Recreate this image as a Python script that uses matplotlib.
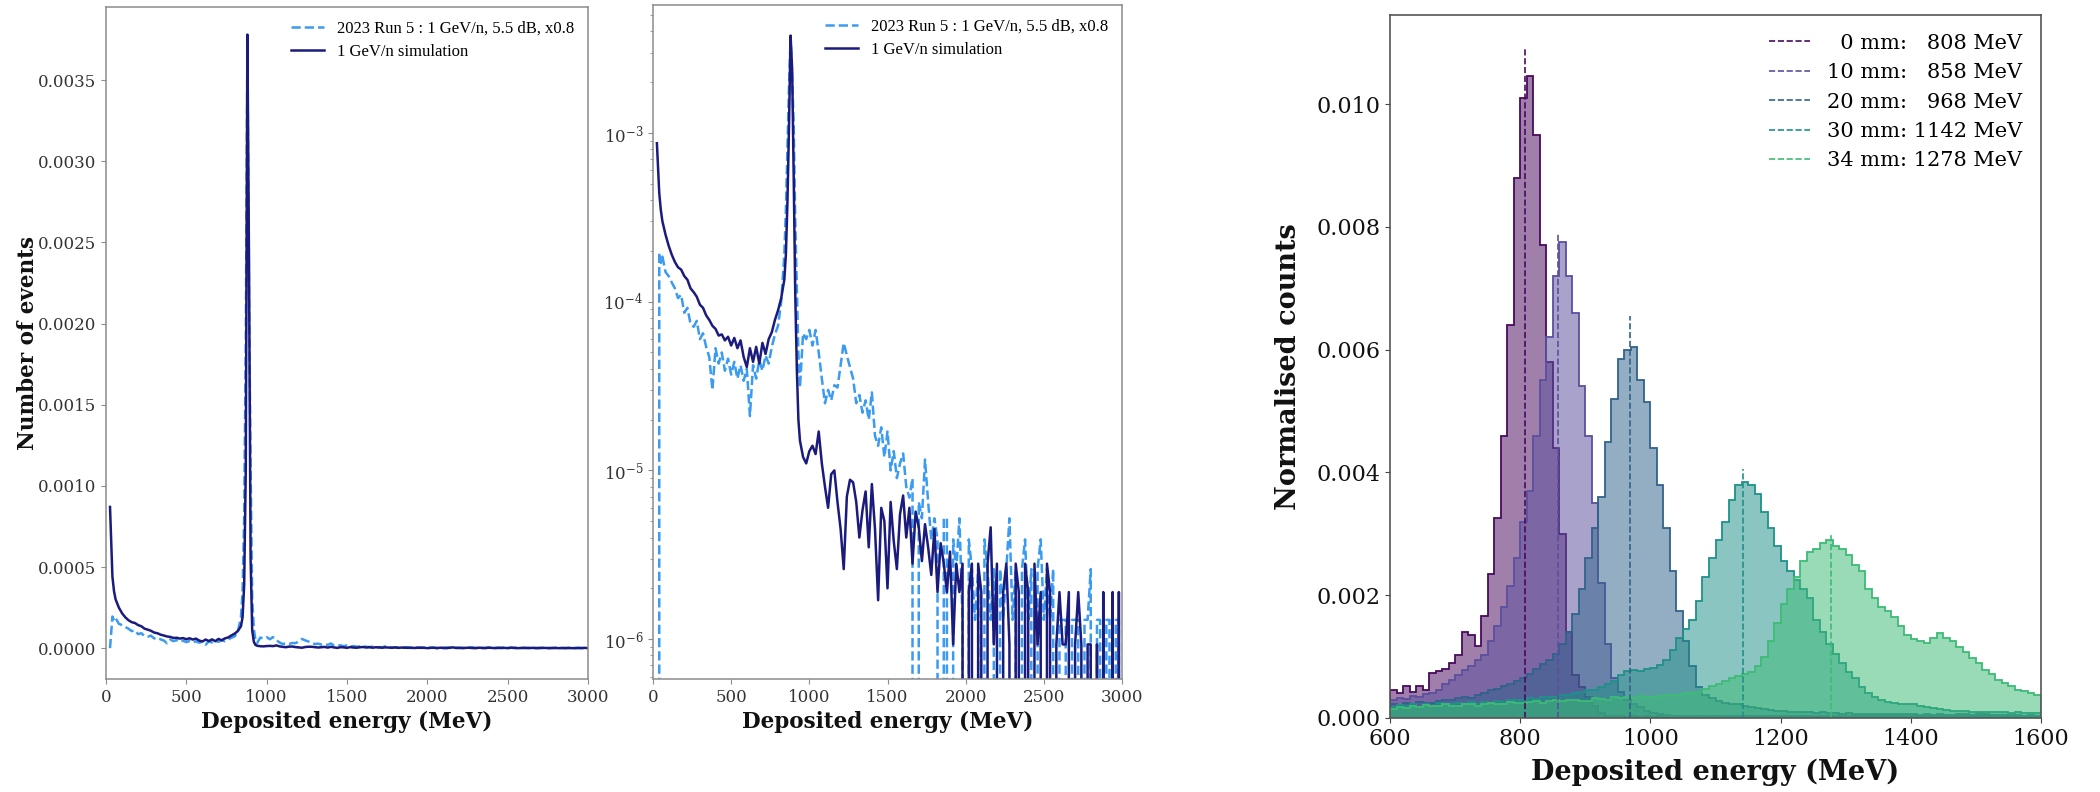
import numpy as np
import matplotlib
matplotlib.use("Agg")
import matplotlib.pyplot as plt
from matplotlib.lines import Line2D
from matplotlib.ticker import FormatStrFormatter

plt.rcParams['font.family'] = 'DejaVu Serif'
plt.rcParams['mathtext.fontset'] = 'dejavuserif'

# ---------------- Panels 1 & 2: spectra (same data, linear and log) ----------------
E_main = [25, 40, 50, 60,
          80, 100, 120, 140, 160, 180, 200, 220, 240, 260,
          280, 300, 320, 340, 360, 380, 400, 420, 440, 460,
          480, 500, 520, 540, 560, 580, 600, 620, 640, 660,
          680, 700, 720, 740, 760, 780, 800, 820, 840,
          850, 860, 870, 880, 890, 900, 910, 920, 930, 940]

sim_main = [8.7e-4, 4.4e-4, 3.5e-4, 3.0e-4,
            2.5e-4, 2.15e-4, 1.9e-4, 1.72e-4, 1.6e-4, 1.55e-4, 1.42e-4, 1.35e-4, 1.2e-4, 1.14e-4,
            1.07e-4, 9.6e-5, 9.2e-5, 8.3e-5, 7.8e-5, 7.2e-5, 6.9e-5, 6.3e-5, 6.4e-5, 5.9e-5,
            6.2e-5, 5.5e-5, 6.1e-5, 5.3e-5, 5.9e-5, 4.7e-5, 4.1e-5, 5.3e-5, 4.4e-5, 5.4e-5,
            4.3e-5, 5.7e-5, 4.9e-5, 6.0e-5, 6.6e-5, 7.8e-5, 8.9e-5, 1.05e-4, 1.35e-4,
            1.9e-4, 3.9e-4, 1.1e-3, 3.78e-3, 2.4e-3, 5.5e-4, 1.1e-4, 4.0e-5, 2.0e-5, 1.5e-5]

data_main = [0.0, 1.95e-4, 1.7e-4, 1.85e-4,
             1.5e-4, 1.42e-4, 1.3e-4, 1.2e-4, 1.05e-4, 1.1e-4, 8.6e-5, 9.2e-5, 7.4e-5, 7.1e-5,
             7.7e-5, 6.0e-5, 6.5e-5, 5.4e-5, 4.7e-5, 3.0e-5, 5.3e-5, 4.3e-5, 5.0e-5, 3.9e-5,
             4.6e-5, 3.7e-5, 4.4e-5, 3.5e-5, 4.2e-5, 3.4e-5, 4.0e-5, 2.1e-5, 4.2e-5, 3.5e-5,
             4.5e-5, 3.9e-5, 4.8e-5, 4.3e-5, 5.4e-5, 6.4e-5, 7.2e-5, 1.0e-4, 1.9e-4,
             3.5e-4, 8.0e-4, 1.9e-3, 3.7e-3, 2.2e-3, 1.1e-3, 3.0e-4, 1.2e-4, 5.0e-5, 3.1e-5]

E_tail = list(range(960, 3001, 20))

sim_tail = [1.2e-5, 1.1e-5, 1.3e-5, 1.4e-5, 1.25e-5, 1.7e-5, 1.1e-5, 8.0e-6, 6.0e-6, 9.5e-6,
            1.0e-5, 6.5e-6, 4.5e-6, 2.6e-6, 7.0e-6, 8.8e-6, 8.5e-6, 6.5e-6, 4.0e-6, 5.8e-6,
            7.5e-6, 3.5e-6, 8.3e-6, 4.5e-6, 1.7e-6, 6.0e-6, 5.0e-6, 2.0e-6, 6.5e-6, 3.8e-6,
            2.6e-6, 5.5e-6, 7.1e-6, 4.0e-6, 6.0e-6, 2.8e-6, 5.7e-6, 4.6e-6, 2.9e-6, 4.8e-6,
            3.5e-6, 2.4e-6, 4.5e-6, 1.9e-6, 3.7e-6, 2.8e-6, 1.9e-6, 3.3e-6, 9.3e-7, 2.8e-6,
            1.9e-6, 2.8e-6, 0, 1.9e-6, 2.8e-6, 0, 2.8e-6, 1.9e-6, 0, 2.8e-6,
            4.6e-6, 9.3e-7, 2.8e-6, 0, 1.9e-6, 2.8e-6, 9.3e-7, 0, 2.8e-6, 1.9e-6,
            0, 2.8e-6, 1.9e-6, 0, 2.8e-6, 9.3e-7, 1.9e-6, 0, 2.8e-6, 1.9e-6,
            0, 9.3e-7, 1.9e-6, 9.3e-7, 9.3e-7, 1.9e-6, 0, 9.3e-7, 1.9e-6, 9.3e-7,
            0, 9.3e-7, 9.3e-7, 0, 9.3e-7, 0, 1.9e-6, 0, 0, 1.9e-6,
            0, 1.9e-6, 0]

data_tail = [6.5e-5, 6.0e-5, 6.8e-5, 5.5e-5, 6.8e-5, 5.0e-5, 3.5e-5, 2.5e-5, 3.0e-5, 2.6e-5,
             3.2e-5, 3.1e-5, 4.2e-5, 5.7e-5, 4.8e-5, 4.1e-5, 3.5e-5, 2.5e-5, 2.8e-5, 2.2e-5,
             2.6e-5, 2.0e-5, 2.9e-5, 1.6e-5, 1.4e-5, 1.8e-5, 1.2e-5, 1.7e-5, 1.0e-5, 1.3e-5,
             9.0e-6, 1.1e-5, 1.26e-5, 8.0e-6, 6.9e-6, 9.0e-6, 0, 6.5e-6, 5.2e-6, 1.16e-5,
             6.5e-6, 3.9e-6, 5.2e-6, 3.9e-6, 0, 5.2e-6, 5.2e-6, 0, 3.9e-6, 2.6e-6,
             5.2e-6, 1.3e-6, 0, 3.9e-6, 2.6e-6, 1.3e-6, 2.6e-6, 0, 3.9e-6, 2.6e-6,
             1.3e-6, 2.6e-6, 0, 2.6e-6, 1.3e-6, 2.6e-6, 5.2e-6, 1.3e-6, 2.6e-6, 0,
             2.6e-6, 3.9e-6, 1.3e-6, 2.6e-6, 0, 2.6e-6, 3.9e-6, 1.3e-6, 2.6e-6, 1.3e-6,
             2.6e-6, 0, 1.3e-6, 1.3e-6, 1.3e-6, 0, 1.3e-6, 1.3e-6, 1.3e-6, 0,
             1.3e-6, 1.3e-6, 2.6e-6, 0, 1.3e-6, 1.3e-6, 0, 1.3e-6, 1.3e-6, 0,
             1.3e-6, 1.3e-6, 0]

data_label = "2023 Run 5 : 1 GeV/n, 5.5 dB, x0.8"
sim_label = "1 GeV/n simulation"

# ---------------- Panel 3: histograms vs. distance ----------------
hist_edges = list(range(600, 1601, 10))
distances = [0, 10, 20, 30, 34]
mean_energy = [808, 858, 968, 1142, 1278]
peak_line_1e4 = [109.0, 79.0, 65.5, 40.5, 29.8]

h0 = [4.5, 4.0, 5.2, 4.3, 5.2, 4.6, 7.3, 7.6, 8.0, 9.0,
      10.2, 14.0, 13.5, 11.8, 16.6, 23.5, 32.6, 46.0, 64.0, 88.0,
      101.0, 104.5, 95.0, 77.0, 58.0, 44.0, 30.0, 14.0, 7.0, 5.0,
      3.5, 2.0, 0.8, 0.4, 0.3, 0.3, 0.2, 0.3, 0.2, 0.3,
      0.2, 0.3, 0.2, 0.2, 0.3, 0.2, 0.2, 0.3, 0.2, 0.2,
      0.3, 0.2, 0.2, 0.2, 0.3, 0.2, 0.2, 0.2, 0.3, 0.2,
      0.2, 0.2, 0.2, 0.3, 0.2, 0.2, 0.2, 0.3, 0.2, 0.2,
      0.2, 0.3, 0.2, 0.2, 0.2, 0.3, 0.2, 0.2, 0.2, 0.2,
      0.3, 0.2, 0.2, 0.2, 0.2, 0.3, 0.2, 0.2, 0.2, 0.2,
      0.2, 0.3, 0.2, 0.2, 0.2, 0.2, 0.3, 0.2, 0.2, 0.2]
h10 = [3.0, 3.3, 3.1, 3.6, 3.5, 3.9, 4.0, 4.6, 5.5, 6.2,
       7.0, 7.8, 8.5, 9.5, 10.2, 12.5, 15.0, 18.0, 21.5, 26.0,
       32.0, 37.0, 46.0, 55.0, 62.0, 72.0, 77.5, 72.0, 66.0, 54.0,
       46.0, 35.0, 22.0, 12.0, 6.5, 4.2, 3.0, 2.2, 1.8, 1.2,
       0.8, 0.6, 0.5, 0.4, 0.4, 0.3, 0.4, 0.3, 0.3, 0.4,
       0.3, 0.3, 0.4, 0.3, 0.3, 0.3, 0.4, 0.3, 0.3, 0.3,
       0.4, 0.3, 0.3, 0.3, 0.4, 0.3, 0.3, 0.3, 0.3, 0.4,
       0.3, 0.3, 0.3, 0.4, 0.3, 0.3, 0.4, 0.3, 0.3, 0.3,
       0.4, 0.3, 0.3, 0.3, 0.3, 0.4, 0.3, 0.5, 0.6, 0.5,
       0.8, 0.6, 0.5, 0.4, 0.5, 0.4, 0.4, 0.3, 0.4, 0.3]
h20 = [2.2, 2.0, 2.4, 2.3, 2.6, 2.5, 2.4, 2.8, 3.0, 2.9,
       3.2, 3.4, 3.3, 3.8, 4.0, 4.5, 4.8, 5.2, 5.5, 6.0,
       6.5, 7.2, 8.0, 8.8, 9.5, 10.5, 12.0, 14.0, 17.0, 21.0,
       26.0, 31.0, 36.0, 45.0, 52.0, 58.5, 60.0, 60.5, 55.0, 51.5,
       44.0, 38.0, 31.0, 24.0, 17.5, 12.5, 8.5, 5.0, 3.8, 3.2,
       2.8, 2.5, 2.3, 2.2, 2.0, 1.8, 1.6, 1.5, 1.3, 1.2,
       1.1, 1.0, 1.0, 0.9, 0.9, 0.8, 0.9, 0.8, 0.8, 0.7,
       0.8, 0.7, 0.7, 0.6, 0.7, 0.6, 0.6, 0.7, 0.6, 0.6,
       0.6, 0.5, 0.6, 0.5, 0.6, 0.5, 0.5, 0.6, 0.5, 0.5,
       0.5, 0.6, 0.5, 0.5, 0.4, 0.5, 0.5, 0.4, 0.5, 0.4]
h30 = [1.8, 2.1, 1.9, 2.2, 1.8, 2.3, 2.0, 2.4, 2.1, 2.3,
       2.4, 2.2, 2.6, 2.3, 2.6, 2.5, 2.8, 2.6, 2.9, 3.0,
       3.0, 3.2, 3.1, 3.4, 3.5, 3.4, 3.8, 3.7, 4.0, 4.2,
       4.5, 4.6, 5.0, 5.5, 6.0, 7.0, 7.6, 7.8, 7.6, 8.0,
       8.2, 8.6, 9.5, 11.0, 13.0, 14.5, 16.0, 19.0, 23.0, 26.0,
       29.0, 32.0, 35.5, 38.0, 38.5, 38.0, 36.5, 33.5, 31.0, 28.0,
       25.5, 24.0, 22.5, 21.0, 19.5, 16.0, 14.0, 12.0, 10.5, 9.0,
       7.5, 6.5, 5.0, 4.0, 3.5, 3.0, 2.6, 2.5, 2.3, 2.3,
       2.2, 2.0, 1.8, 1.6, 1.4, 1.3, 1.2, 1.2, 1.1, 1.0,
       1.0, 1.0, 0.9, 0.9, 0.9, 0.8, 0.9, 0.8, 0.8, 0.8]
h34 = [1.5, 1.8, 1.6, 2.0, 1.8, 2.1, 1.9, 2.0, 2.2, 2.0,
       2.0, 2.2, 2.3, 2.0, 2.3, 2.5, 2.3, 2.2, 2.6, 2.4,
       2.4, 2.6, 2.8, 2.5, 2.7, 2.9, 2.8, 3.0, 3.0, 2.8,
       2.8, 3.2, 3.1, 3.0, 3.4, 3.3, 3.4, 3.2, 3.6, 3.5,
       3.5, 3.6, 3.8, 3.7, 3.8, 4.0, 4.0, 4.3, 4.8, 5.2,
       5.5, 6.0, 6.5, 6.8, 7.2, 7.5, 8.5, 10.0, 12.5, 15.5,
       18.5, 21.0, 23.0, 25.5, 27.0, 27.5, 28.5, 29.0, 28.0, 27.5,
       26.5, 25.0, 24.0, 21.0, 19.5, 18.0, 17.5, 16.5, 15.0, 13.5,
       12.8, 12.5, 12.2, 13.0, 13.9, 13.0, 12.5, 11.5, 10.7, 9.8,
       9.0, 7.8, 7.2, 6.2, 5.7, 5.2, 4.6, 4.4, 4.0, 3.7]
hists_1e4 = [h0, h10, h20, h30, h34]

# ---------------- styling ----------------
DATA_C = '#3a9bf0'
SIM_C = '#1b1b7e'
HIST_COLORS = ['#4a0a5e', '#5b4f9e', '#31628c', '#1f9189', '#3dbb75']
FILL_ALPHA = 0.52

W, H = 2100, 792
fig = plt.figure(figsize=(W / 100, H / 100), dpi=100)
ax1 = fig.add_axes([106 / W, 1 - 679 / H, 482 / W, 672 / H])
ax2 = fig.add_axes([653 / W, 1 - 679 / H, 469 / W, 674 / H])
ax3 = fig.add_axes([1390 / W, 1 - 718 / H, 651 / W, 703 / H])

energy = np.array(E_main + E_tail, dtype=float)
sim = np.array(sim_main + sim_tail)
dat = np.array(data_main + data_tail)

for ax in (ax1, ax2):
    ax.plot(energy, dat, ls='--', color=DATA_C, lw=1.8, label=data_label)
    ax.plot(energy, sim, ls='-', color=SIM_C, lw=1.8, label=sim_label)
    ax.set_xlim(0, 3000)
    ax.set_xticks(range(0, 3001, 500))
    ax.set_xlabel('Deposited energy (MeV)', fontsize=15.5, fontweight='bold', color='#111111')
    ax.xaxis.set_label_coords(0.5, -0.048)
    for s in ax.spines.values():
        s.set_color('#8c8c8c')
        s.set_linewidth(1.1)
    ax.tick_params(which='both', colors='#8c8c8c', labelcolor='#333333', labelsize=12)
    ax.legend(loc='upper right', frameon=False, prop={'family': 'Liberation Serif', 'size': 12},
              handlelength=2.0, borderaxespad=0.4, labelspacing=0.45)

ax1.set_ylim(-0.00019, 0.00395)
ax1.set_yticks(np.arange(0, 0.00351, 0.0005))
ax1.yaxis.set_major_formatter(FormatStrFormatter('%.4f'))
ax1.set_ylabel('Number of events', fontsize=15.5, fontweight='bold', color='#111111')
ax1.yaxis.set_label_coords(-0.14, 0.5)

ax2.set_yscale('log')
ax2.set_ylim(5.8e-7, 5.74e-3)

edges = np.array(hist_edges, dtype=float)
for d, m, pk, hv, c in zip(distances, mean_energy, peak_line_1e4, hists_1e4, HIST_COLORS):
    h = np.array(hv) * 1e-4
    ax3.stairs(h, edges, fill=True, color=c, alpha=FILL_ALPHA, lw=0)
    ax3.stairs(h, edges, color=c, lw=1.3)
    ax3.vlines(m, 0, pk * 1e-4, colors=c, linestyles='--', lw=1.2)

handles = [Line2D([], [], color=c, ls='--', lw=1.2) for c in HIST_COLORS]
labels = [f"{'  ' if d < 10 else ''}{d} mm: {'' if e >= 1000 else '  '}{e} MeV"
          for d, e in zip(distances, mean_energy)]
ax3.legend(handles, labels, loc='upper right', frameon=False, fontsize=15)

ax3.set_xlim(600, 1600)
ax3.set_ylim(0, 0.01145)
ax3.set_xticks(range(600, 1601, 200))
ax3.set_yticks(np.arange(0, 0.0101, 0.002))
ax3.yaxis.set_major_formatter(FormatStrFormatter('%.3f'))
ax3.tick_params(labelsize=16, colors='#444444', labelcolor='#111111')
for s in ax3.spines.values():
    s.set_color('#555555')
    s.set_linewidth(1.2)
ax3.set_xlabel('Deposited energy (MeV)', fontsize=19.5, fontweight='bold', color='#111111')
ax3.xaxis.set_label_coords(0.5, -0.058)
ax3.set_ylabel('Normalised counts', fontsize=19.5, fontweight='bold', color='#111111')
ax3.yaxis.set_label_coords(-0.135, 0.5)

fig.savefig('out.png', dpi=100)
